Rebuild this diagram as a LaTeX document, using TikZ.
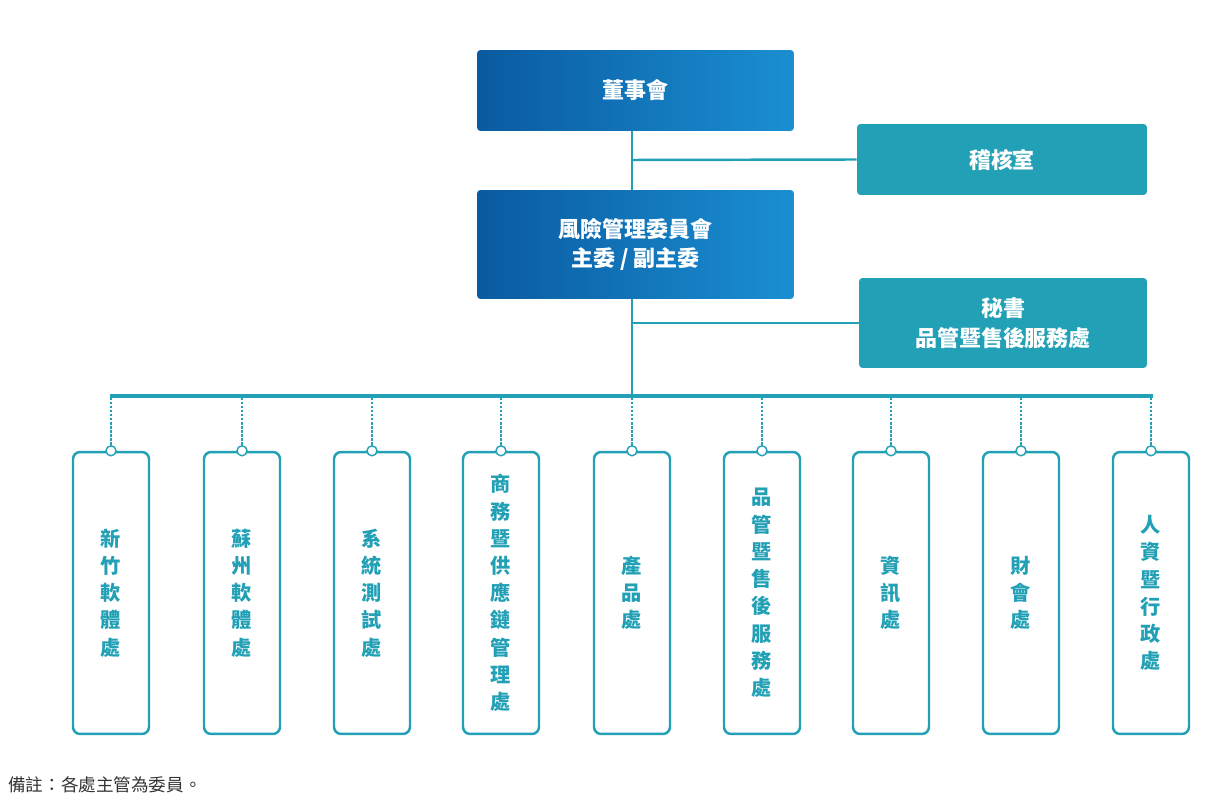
\documentclass[tikz,border=0pt]{standalone}
\usepackage{fontspec}
\setmainfont{Noto Sans CJK TC}
\usetikzlibrary{shadings}
\definecolor{navyL}{HTML}{0A5AA0}
\definecolor{navyR}{HTML}{1A8FD2}
\definecolor{teal}{HTML}{22A0B5}
\tikzset{
  bluebox/.style={rounded corners=2pt,left color=navyL,right color=navyR,draw=none,text=white,
    font=\fontsize{12.5}{17}\selectfont\bfseries,align=center,inner sep=0pt},
  tealbox/.style={rounded corners=2pt,fill=teal,draw=none,text=white,
    font=\fontsize{12.5}{17}\selectfont\bfseries,align=center,inner sep=0pt},
  unit/.style={rounded corners=4pt,draw=teal,line width=1.4pt,fill=white,text=teal,
    minimum width=1.52cm,minimum height=5.64cm,inner sep=0pt,align=center,
    font=\fontsize{11.5}{15.5}\selectfont\bfseries},
  dot/.style={circle,draw=teal,fill=white,line width=0.8pt,minimum size=0.2cm,inner sep=0pt},
}
\begin{document}
\begin{tikzpicture}[x=0.02cm,y=-0.02cm]
%%
  \useasboundingbox (0,0) rectangle (1205,810);
  \node (board) at (635.5,90.5) [bluebox,minimum width=6.34cm,minimum height=1.62cm] {董事會};
  \node (audit) at (1002,159.5) [tealbox,minimum width=5.8cm,minimum height=1.42cm] {稽核室};
  \node (risk) at (635.5,244.5) [bluebox,minimum width=6.34cm,minimum height=2.18cm] {風險管理委員會\\主委 / 副主委};
  \node (secr) at (1003,323) [tealbox,minimum width=5.76cm,minimum height=1.8cm] {秘書\\品管暨售後服務處};
  \coordinate (bus) at (632,396);
  \coordinate (busL) at (110,396);
  \coordinate (busR) at (1153,396);

  \draw [teal,line width=1.4pt] (board.south -| bus) -- (risk.north -| bus);
  \draw [teal,line width=1.4pt] (risk.south -| bus) -- (bus);
  \draw [teal,line width=1.4pt] (632,160) -- (audit.west);
  \draw [teal,line width=1.4pt] (632,323) -- (secr.west);
  \draw [teal,line width=2.6pt] (busL) -- (busR);
%
  \foreach \x/\name/\txt in {111/u1/新\\竹\\軟\\體\\處, 242/u2/蘇\\州\\軟\\體\\處, 372/u3/系\\統\\測\\試\\處,
      501/u4/商\\務\\暨\\供\\應\\鏈\\管\\理\\處, 632/u5/產\\品\\處, 762/u6/品\\管\\暨\\售\\後\\服\\務\\處,
      891/u7/資\\訊\\處, 1021/u8/財\\會\\處, 1151/u9/人\\資\\暨\\行\\政\\處} {
    \node (\name) at (\x,593) [unit] {\txt};
    \node (\name dot) at (\name.north) [dot] {};
    \draw [teal,line width=1.3pt,densely dotted] (\x,398) -- (\name dot);
  }

  \node (note) at (8,785) [anchor=west,inner sep=0pt,font=\fontsize{10}{12}\selectfont,text=black!80] {備註：各處主管為委員。};
\end{tikzpicture}
\end{document}
